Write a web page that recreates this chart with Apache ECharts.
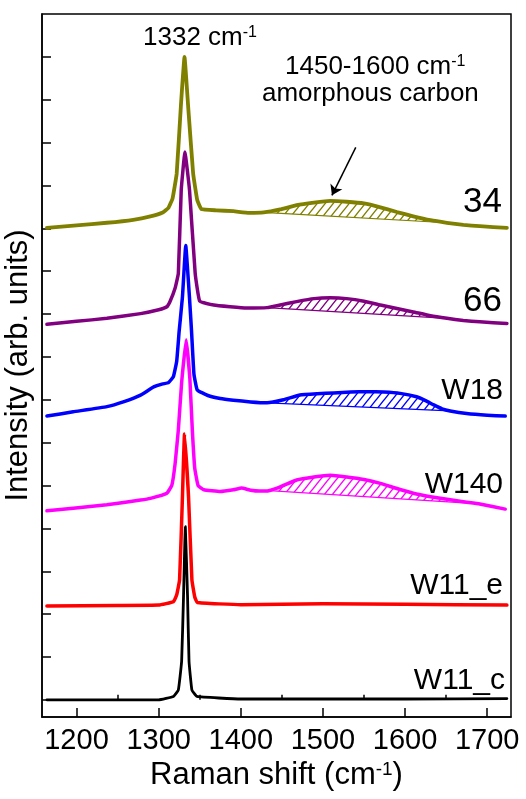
<!DOCTYPE html>
<html><head><meta charset="utf-8">
<script src="https://cdn.jsdelivr.net/npm/echarts@6/dist/echarts.min.js"></script>
<style>html,body{margin:0;padding:0;background:#fff}#c{width:526px;height:799px}</style>
</head><body><div id="c"></div>
<script>
// ---- axis ticks ----
const xTicks = [1200, 1300, 1400, 1500, 1600, 1700];
const xMinorTicks = [1250, 1350, 1450, 1550, 1650];
const yTicks = [0, 1, 2, 3, 4, 5, 6, 7, 8, 9, 10, 11, 12, 13, 14, 15];

// ---- spectra (Raman shift, offset intensity) ----
const x34 = [1164,1200,1237,1269,1290,1305,1312,1317,1322,1327,1331.5,1336,1342,1347,1352,1370,1391,1410,1428,1448,1468,1489,1509,1529,1550,1570,1590,1610,1631,1651,1671,1691,1724];
const y34 = [11.01,11.07,11.13,11.2,11.28,11.37,11.48,11.7,12.28,13.83,15.0,13.83,12.28,11.66,11.45,11.42,11.4,11.36,11.37,11.44,11.54,11.6,11.64,11.62,11.58,11.49,11.38,11.28,11.19,11.13,11.08,11.05,11.01];

const x66 = [1164,1200,1237,1278,1300,1310,1314,1320,1324,1327.5,1332,1337.6,1344.5,1350,1367,1387,1407,1432,1448,1468,1489,1509,1529,1550,1570,1590,1610,1631,1651,1671,1691,1724];
const y66 = [8.76,8.83,8.9,9.01,9.1,9.17,9.3,9.6,9.95,11.89,12.78,11.89,9.95,9.3,9.21,9.17,9.14,9.15,9.21,9.29,9.36,9.38,9.36,9.3,9.21,9.13,9.05,8.96,8.9,8.85,8.82,8.78];

const xW18 = [1164,1196,1237,1257,1278,1294,1305,1312,1318,1322,1325,1329,1333,1337.5,1340,1343,1347,1360,1375,1391,1412,1432,1452,1472,1493,1513,1534,1554,1574,1594,1614,1625,1635,1645,1655,1675,1700,1722];
const yW18 = [6.62,6.72,6.84,6.95,7.11,7.3,7.37,7.4,7.54,7.9,8.6,9.4,10.6,9.4,8.62,7.6,7.23,7.1,7.03,6.99,6.95,6.93,7.0,7.11,7.14,7.16,7.18,7.19,7.18,7.15,7.07,6.98,6.88,6.79,6.74,6.68,6.64,6.62];

const xW140 = [1164,1196,1237,1278,1290,1310,1316,1320,1324,1328,1333.5,1338,1341,1344,1348,1355,1375,1391,1401,1412,1423,1434,1448,1468,1489,1509,1529,1550,1570,1590,1610,1631,1651,1671,1691,1722];
const yW140 = [4.41,4.47,4.55,4.66,4.7,4.82,5.0,5.5,6.3,7.4,8.4,7.5,6.3,5.4,5.0,4.9,4.86,4.9,4.94,4.89,4.87,4.88,4.97,5.13,5.2,5.24,5.2,5.14,5.05,4.93,4.82,4.74,4.68,4.62,4.57,4.45];

const xW11e = [1164,1250,1300,1318,1322,1325.5,1329,1331.5,1336.4,1340.5,1344,1347,1400,1500,1600,1724];
const yW11e = [2.19,2.2,2.21,2.29,2.45,2.8,4.74,6.2,4.74,2.8,2.4,2.27,2.22,2.24,2.23,2.21];

const xW11c = [1164,1300,1318,1324,1328,1330.3,1332.5,1335.2,1337,1340.5,1346.6,1400,1600,1724];
const yW11c = [0.0,0.0,0.08,0.23,0.9,2.41,4.04,2.41,0.9,0.23,0.08,0.02,0.02,0.03];

// ---- hatched amorphous-carbon bands (x range on each curve) ----
const hatch34 = [1428, 1651];
const hatch66 = [1432, 1651];
const hatchW18 = [1432, 1655];
const hatchW140 = [1434, 1691];

// ---- arrow annotation (data coords) ----
const arrowFrom = [1540, 12.89];
const arrowTo = [1511, 11.77];

const curveNames = ['34', '66', 'W18', 'W140', 'W11_e', 'W11_c'];

// ---- styles ----
const FONT = 'Liberation Sans, Arial, Helvetica, sans-serif';
const colors = ['#808000', '#800080', '#0000ff', '#ff00ff', '#ff0000', '#000000'];
const widths = [3.8, 3.5, 3.5, 3.5, 3.5, 2.8];

const curves = [
  {xs: x34, ys: y34, hatch: hatch34},
  {xs: x66, ys: y66, hatch: hatch66},
  {xs: xW18, ys: yW18, hatch: hatchW18},
  {xs: xW140, ys: yW140, hatch: hatchW140},
  {xs: xW11e, ys: yW11e, hatch: null},
  {xs: xW11c, ys: yW11c, hatch: null}
];

function hatchPattern(color) {
  const c = document.createElement('canvas');
  c.width = 8; c.height = 10;
  const g = c.getContext('2d');
  g.strokeStyle = color; g.lineWidth = 1.4;
  g.beginPath();
  g.moveTo(0, 10); g.lineTo(8, 0);
  g.moveTo(-1, 1.25); g.lineTo(1, -1.25);
  g.moveTo(7, 11.25); g.lineTo(9, 8.75);
  g.stroke();
  return c;
}

const series = [];
curves.forEach((cv, i) => {
  if (cv.hatch) {
    const pat = hatchPattern(colors[i]);
    series.push({
      type: 'custom', silent: true, z: 1,
      data: [cv.hatch],
      encode: {x: [0, 1]},
      renderItem: function (params, api) {
        const a = api.value(0), b = api.value(1);
        const pts = [];
        for (let k = 0; k < cv.xs.length; k++) {
          if (cv.xs[k] >= a && cv.xs[k] <= b) pts.push(api.coord([cv.xs[k], cv.ys[k]]));
        }
        return {type: 'polygon', shape: {points: pts},
          style: {fill: {image: pat, repeat: 'repeat'}, stroke: colors[i], lineWidth: 1.2}};
      }
    });
  }
});
curves.forEach((cv, i) => {
  const s = {
    type: 'line', name: curveNames[i], silent: true, z: 2 + i,
    data: cv.xs.map((x, k) => [x, cv.ys[k]]),
    showSymbol: false, symbol: 'none', smooth: 0.1,
    lineStyle: {color: colors[i], width: widths[i], cap: 'round', join: 'round'}
  };
  if (i === 0) {
    s.markLine = {
      silent: true, symbol: ['none', 'arrow'], symbolSize: 10, animation: false,
      label: {show: false},
      lineStyle: {color: '#000', width: 1.5, type: 'solid'},
      data: [[{coord: arrowFrom}, {coord: arrowTo}]]
    };
  }
  series.push(s);
});

const chart = echarts.init(document.getElementById('c'), null, {renderer: 'canvas'});
const labelPos = [
  {x: 502, y: 202, size: 35},
  {x: 502, y: 301, size: 35},
  {x: 503, y: 391, size: 30},
  {x: 503, y: 485, size: 30},
  {x: 503, y: 586, size: 30},
  {x: 505, y: 681, size: 30}
];
const graphic = curveNames.map((t, i) => ({
  type: 'text', x: labelPos[i].x, y: labelPos[i].y, silent: true, z: 20,
  style: {text: t, fontSize: labelPos[i].size, fontFamily: FONT, fill: '#000', align: 'right', verticalAlign: 'middle'}
}));
const richSup = {
  n: {fontSize: 26, fontFamily: FONT, color: '#000', verticalAlign: 'bottom'},
  s: {fontSize: 16, fontFamily: FONT, color: '#000', verticalAlign: 'top'}
};
graphic.push({type: 'text', x: 143, y: 38, silent: true, z: 20,
  style: {text: '{n|1332 cm}{s|-1}', rich: richSup, align: 'left', verticalAlign: 'middle'}});
graphic.push({type: 'text', x: 285, y: 67, silent: true, z: 20,
  style: {text: '{n|1450-1600 cm}{s|-1}', rich: richSup, align: 'left', verticalAlign: 'middle'}});
graphic.push({type: 'text', x: 262, y: 94, silent: true, z: 20,
  style: {text: 'amorphous carbon', fontSize: 26, fontFamily: FONT, fill: '#000', align: 'left', verticalAlign: 'middle'}});

chart.setOption({
  animation: false,
  textStyle: {fontFamily: FONT},
  grid: {left: 42, right: 15, top: 14, bottom: 82, show: true, borderColor: '#000', borderWidth: 1.5,
         containLabel: false, outerBoundsMode: 'none'},
  xAxis: [{
    type: 'value', min: 1158, max: 1729, position: 'bottom',
    axisLine: {show: true, onZero: false, lineStyle: {color: '#000', width: 1.5}},
    axisTick: {show: true, inside: true, length: 9, customValues: xTicks, lineStyle: {color: '#000', width: 1.5}},
    axisLabel: {show: true, customValues: xTicks, fontSize: 29, color: '#000', margin: 9, fontFamily: FONT,
                formatter: v => String(v), hideOverlap: false, showMinLabel: true, showMaxLabel: true},
    splitLine: {show: false},
    name: '{n|Raman shift (cm}{s|-1}{n|)}', nameLocation: 'middle', nameGap: 41,
    nameTextStyle: {rich: {
      n: {fontSize: 31, fontFamily: FONT, color: '#000', verticalAlign: 'bottom'},
      s: {fontSize: 19, fontFamily: FONT, color: '#000', verticalAlign: 'top'}
    }}
  }, {
    type: 'value', min: 1158, max: 1729, position: 'bottom',
    axisLine: {show: false},
    axisTick: {show: true, inside: true, length: 5, customValues: xMinorTicks, lineStyle: {color: '#000', width: 1.5}},
    axisLabel: {show: false}, splitLine: {show: false}
  }],
  yAxis: {
    type: 'value', min: -0.4, max: 16,
    axisLine: {show: true, onZero: false, lineStyle: {color: '#000', width: 1.5}},
    axisTick: {show: true, inside: true, length: 9, customValues: yTicks, lineStyle: {color: '#000', width: 1.5}},
    axisLabel: {show: false}, splitLine: {show: false},
    name: 'Intensity (arb. units)', nameLocation: 'middle', nameGap: 8,
    nameTextStyle: {fontSize: 31, color: '#000', fontFamily: FONT}
  },
  series: series,
  graphic: graphic
});
</script>
</body></html>
